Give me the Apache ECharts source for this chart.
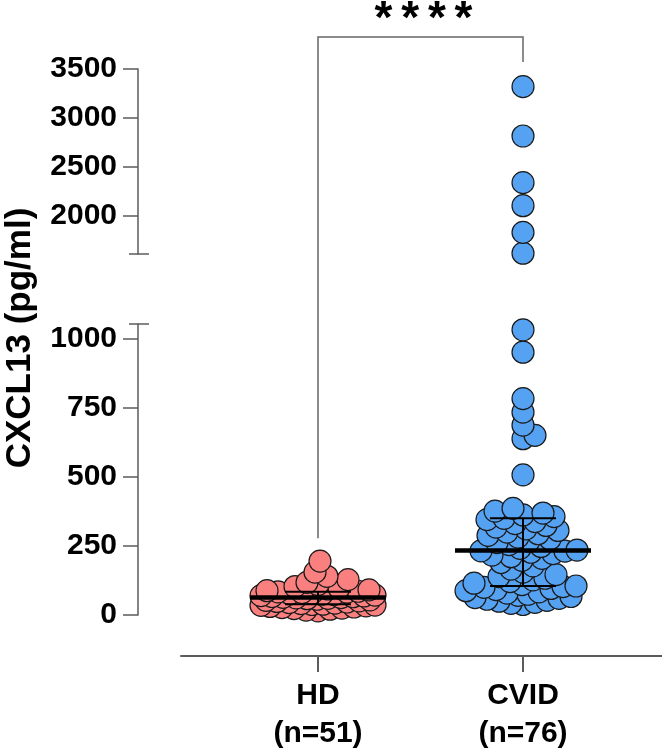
<html>
<head>
<meta charset="utf-8">
<script src="https://cdn.jsdelivr.net/npm/echarts@6/dist/echarts.min.js"></script>
</head>
<body>
<style>
    html, body, #main { width: 100%; height: 100%; margin: 0; background: #fff; }
</style>
<div id="main"></div>
<script>
// groups on the x axis (HD = 1, CVID = 2)
var groupNames = ['HD', 'CVID'];
var groupLabels = ['HD\n(n=51)', 'CVID\n(n=76)'];

// CXCL13 (pg/ml)
var hdValues = [15, 18, 21, 23, 25, 27, 29, 31, 33, 35, 36, 38, 39,
    41, 43, 45, 47, 49, 51, 53, 55, 57, 59, 60, 62, 63,
    64, 66, 67, 69, 70, 72, 74, 75, 77, 79, 81, 83, 84,
    86, 88, 91, 94, 98, 103, 110, 118, 128, 140, 155, 195];
var cvidValues = [38, 42, 46, 50, 53, 57, 60, 63, 67, 71, 75, 79, 84, 88, 92, 96, 100, 103, 105,
    110, 115, 121, 127, 133, 139, 146, 155, 166, 178, 190, 198, 205, 211, 217, 222, 227, 231,
    232, 235, 241, 248, 255, 262, 268, 275, 282, 288, 294, 300, 306, 312, 318, 324, 331, 338, 345,
    350, 356, 362, 369, 376, 386,
    507, 638, 650, 687, 734, 783, 951, 1032, 1620, 1833, 2105, 2340, 2816, 3320];

// median and interquartile range drawn over each group
var medians = [63, 233];
var q1s = [39, 105];
var q3s = [84, 350];

// broken y axis: lower and upper segments
var lowerRange = [0, 1053];
var upperRange = [1612, 3500];
var lowerTicks = [0, 250, 500, 750, 1000];
var upperTicks = [2000, 2500, 3000, 3500];

// significance bracket HD vs CVID
var sigText = '****';
var bracketTop = 3827;
var bracketLeftEnd = 278;   // lower segment
var bracketRightEnd = 3571; // upper segment

var xMin = 0.3317, xMax = 2.678;
var gridLeft = 181, yAxisOffset = 43;
var axisColor = '#5b5b5b';
var font = 'Liberation Sans, Arial, sans-serif';

var chart = echarts.init(document.getElementById('main'));

function yAxisCfg(idx, range, ticks) {
    return {
        gridIndex: idx, type: 'value', min: range[0], max: range[1], offset: yAxisOffset,
        splitLine: { show: false },
        axisLine: { show: true, onZero: false, lineStyle: { color: axisColor, width: 1.5 } },
        axisTick: { show: true, customValues: ticks, length: 15, lineStyle: { color: axisColor, width: 1.5 } },
        axisLabel: {
            customValues: ticks, margin: 21, fontSize: 30, fontWeight: 'bold', color: '#000', fontFamily: font,
            formatter: function (v) { return String(v); }
        }
    };
}

var dotStyle = function (color) {
    return { color: color, borderColor: '#1a1a1a', borderWidth: 1.2, opacity: 1 };
};

var option = {
    animation: false,
    grid: [
        { left: gridLeft, right: 0, top: 69, height: 185 },
        { left: gridLeft, right: 0, top: 324, height: 294 }
    ],
    xAxis: [
        { gridIndex: 0, type: 'value', min: xMin, max: xMax, show: false },
        {
            gridIndex: 1, type: 'value', min: xMin, max: xMax, position: 'bottom', offset: 41,
            splitLine: { show: false },
            axisLine: { onZero: false, lineStyle: { color: axisColor, width: 2 } },
            axisTick: { customValues: [1, 2], length: 16, lineStyle: { color: axisColor, width: 2 } },
            axisLabel: {
                customValues: [1, 2], margin: 21, fontSize: 30, fontWeight: 'bold', color: '#000',
                fontFamily: font, lineHeight: 38,
                formatter: function (v) { return groupLabels[Math.round(v) - 1]; }
            }
        }
    ],
    yAxis: [yAxisCfg(0, upperRange, upperTicks), yAxisCfg(1, lowerRange, lowerTicks)],
    series: []
};
chart.setOption(option);

// beeswarm offsets from the pixel scale of the axes
function gridOf(v) { return v > lowerRange[1] ? 0 : 1; }
var pxPerUnit = chart.convertToPixel({ gridIndex: 1 }, [2, 0])[0] - chart.convertToPixel({ gridIndex: 1 }, [1, 0])[0];

function swarm(values, xc, minDist, maxHalf) {
    var pts = values.map(function (v) {
        return { v: v, g: gridOf(v), py: chart.convertToPixel({ gridIndex: gridOf(v) }, [xc, v])[1] };
    });
    pts.sort(function (a, b) { return b.py - a.py; });
    var placed = [];
    pts.forEach(function (p, i) {
        var sign = i % 2 ? -1 : 1;
        var bestDx = 0, bestScore = -1, found = null;
        for (var k = 0; k <= 2 * maxHalf; k++) {
            var dx = sign * (k % 2 ? 1 : -1) * Math.ceil(k / 2);
            var m = Infinity;
            placed.forEach(function (q) {
                var d = Math.hypot(dx - q.dx, p.py - q.py);
                if (d < m) m = d;
            });
            if (m >= minDist) { found = dx; break; }
            if (m > bestScore) { bestScore = m; bestDx = dx; }
        }
        p.dx = found !== null ? found : bestDx;
        placed.push(p);
    });
    return pts.map(function (p) { return { g: p.g, value: [xc + p.dx / pxPerUnit, p.v] }; });
}

var hdPts = swarm(hdValues, 1, 12, 57);
var cvPts = swarm(cvidValues, 2, 11.5, 57);

function pick(pts, g) {
    return pts.filter(function (p) { return p.g === g; }).map(function (p) { return p.value; });
}

var statData = groupNames.map(function (n, i) { return [i + 1, medians[i], q1s[i], q3s[i]]; });

option.series = [
    { type: 'scatter', xAxisIndex: 1, yAxisIndex: 1, symbolSize: 22, clip: false, z: 2,
      itemStyle: dotStyle('#FA8080'), data: pick(hdPts, 1) },
    { type: 'scatter', xAxisIndex: 1, yAxisIndex: 1, symbolSize: 22, clip: false, z: 2,
      itemStyle: dotStyle('#56A2F2'), data: pick(cvPts, 1) },
    { type: 'scatter', xAxisIndex: 0, yAxisIndex: 0, symbolSize: 22, clip: false, z: 2,
      itemStyle: dotStyle('#56A2F2'), data: pick(cvPts, 0) },
    {
        type: 'custom', xAxisIndex: 1, yAxisIndex: 1, z: 5, clip: false,
        encode: { x: 0, y: [1, 2, 3] },
        data: statData,
        renderItem: function (params, api) {
            var m = api.coord([api.value(0), api.value(1)]);
            var lo = api.coord([api.value(0), api.value(2)]);
            var hi = api.coord([api.value(0), api.value(3)]);
            var st = { stroke: '#000', lineWidth: 2 };
            return {
                type: 'group', children: [
                    { type: 'line', shape: { x1: lo[0], y1: lo[1], x2: hi[0], y2: hi[1] }, style: st },
                    { type: 'line', shape: { x1: lo[0] - 33, y1: lo[1], x2: lo[0] + 33, y2: lo[1] }, style: st },
                    { type: 'line', shape: { x1: hi[0] - 33, y1: hi[1], x2: hi[0] + 33, y2: hi[1] }, style: st },
                    { type: 'line', shape: { x1: m[0] - 68, y1: m[1], x2: m[0] + 68, y2: m[1] }, style: { stroke: '#000', lineWidth: 4.5 } }
                ]
            };
        }
    }
];

// bracket, axis break caps and y title
var bL0 = chart.convertToPixel({ gridIndex: 1 }, [1, bracketLeftEnd]);
var bL1 = chart.convertToPixel({ gridIndex: 0 }, [1, bracketTop]);
var bR1 = chart.convertToPixel({ gridIndex: 0 }, [2, bracketTop]);
var bR0 = chart.convertToPixel({ gridIndex: 0 }, [2, bracketRightEnd]);
var axisX = gridLeft - yAxisOffset;
var capUp = chart.convertToPixel({ gridIndex: 0 }, [1, upperRange[0]])[1];
var capLow = chart.convertToPixel({ gridIndex: 1 }, [1, lowerRange[1]])[1];
var lineSt = { stroke: axisColor, lineWidth: 1.5 };
var sigRich = sigText.split('').map(function () { return '{s|*}'; }).join('');

option.graphic = [
    { type: 'polyline', shape: { points: [bL0, bL1, bR1, bR0] }, style: { stroke: '#666', lineWidth: 1.5, fill: null } },
    { type: 'text', x: (bL1[0] + bR1[0]) / 2 + 3, y: bL1[1] - 17,
      style: {
          text: sigRich, align: 'center', verticalAlign: 'middle',
          rich: { s: { width: 26.7, align: 'center', fontSize: 46, fontWeight: 'bold', fontFamily: font, color: '#000' } }
      } },
    { type: 'line', shape: { x1: axisX - 9, y1: capUp, x2: axisX + 11, y2: capUp }, style: lineSt },
    { type: 'line', shape: { x1: axisX - 9, y1: capLow, x2: axisX + 11, y2: capLow }, style: lineSt },
    { type: 'text', x: 20, y: 338, rotation: Math.PI / 2,
      style: { text: 'CXCL13 (pg/ml)', font: 'bold 35px ' + font, fill: '#000', align: 'center', verticalAlign: 'middle' } }
];

chart.setOption(option);
window.onresize = chart.resize;
</script>
</body>
</html>
